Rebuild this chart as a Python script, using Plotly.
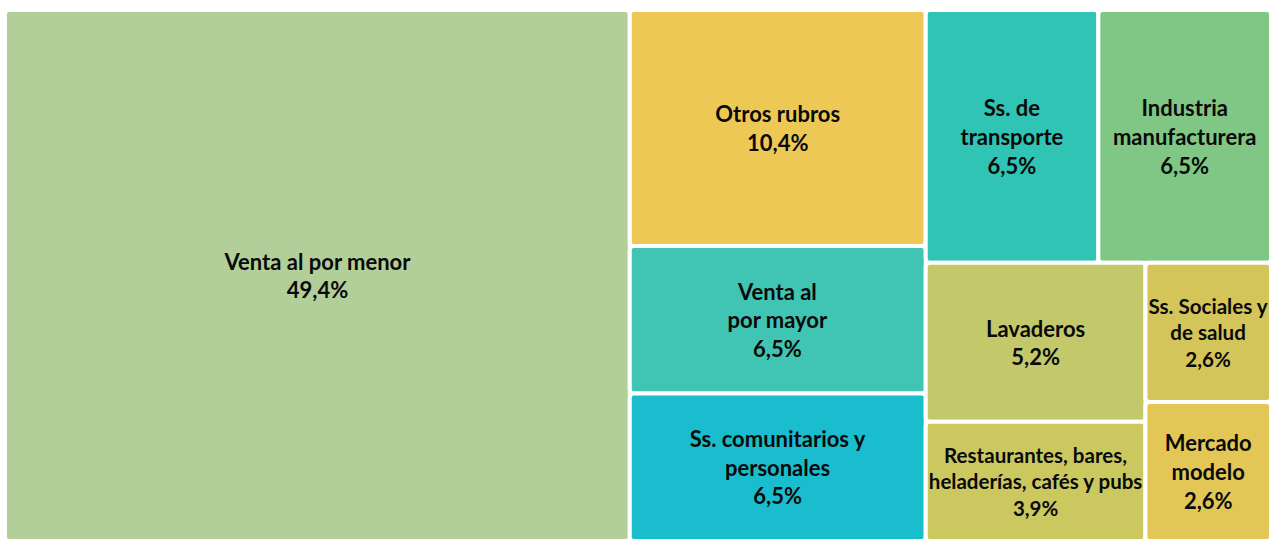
import plotly.graph_objects as go

labels = ["Venta al por menor", "Otros rubros", "Venta al por mayor", "Ss. comunitarios y personales",
          "Ss. de transporte", "Industria manufacturera", "Lavaderos",
          "Restaurantes, bares, heladerías, cafés y pubs", "Ss. Sociales y de salud", "Mercado modelo"]
display = ["Venta al por menor", "Otros rubros", "Venta al<br>por mayor", "Ss. comunitarios y<br>personales",
           "Ss. de<br>transporte", "Industria<br>manufacturera", "Lavaderos",
           "Restaurantes, bares,<br>heladerías, cafés y pubs", "Ss. Sociales y<br>de salud", "Mercado<br>modelo"]
values = [49.4, 10.4, 6.5, 6.5, 6.5, 6.5, 5.2, 3.9, 2.6, 2.6]
pct_text = ["49,4%", "10,4%", "6,5%", "6,5%", "6,5%", "6,5%", "5,2%", "3,9%", "2,6%", "2,6%"]
colors = ["#B2CF99", "#EDC855", "#40C4B3", "#19BDCD", "#30C4B4", "#80C684",
          "#C3C86A", "#CBC860", "#D4C55B", "#E2C756"]

fig = go.Figure(go.Treemap(
    labels=labels,
    parents=[""] * len(labels),
    values=values,
    customdata=[[d, p] for d, p in zip(display, pct_text)],
    texttemplate="%{customdata[0]}<br>%{customdata[1]}",
    textposition="middle center",
    textfont=dict(family="Lato", size=22, color="#0a0a0a", weight="bold"),
    marker=dict(colors=colors, line=dict(color="white", width=4), cornerradius=4,
                pad=dict(t=0, l=0, r=0, b=0)),
    tiling=dict(packing="squarify", squarifyratio=1.618, pad=0),
    pathbar=dict(visible=False),
    sort=False,
    hoverinfo="skip",
))
fig.update_layout(
    width=1271, height=541,
    margin=dict(l=5, r=0, t=10, b=0),
    paper_bgcolor="white",
)
fig.write_html("out.html",
               config={"displayModeBar": False},
               post_script="document.body.style.margin='0';document.body.style.overflow='hidden';")
